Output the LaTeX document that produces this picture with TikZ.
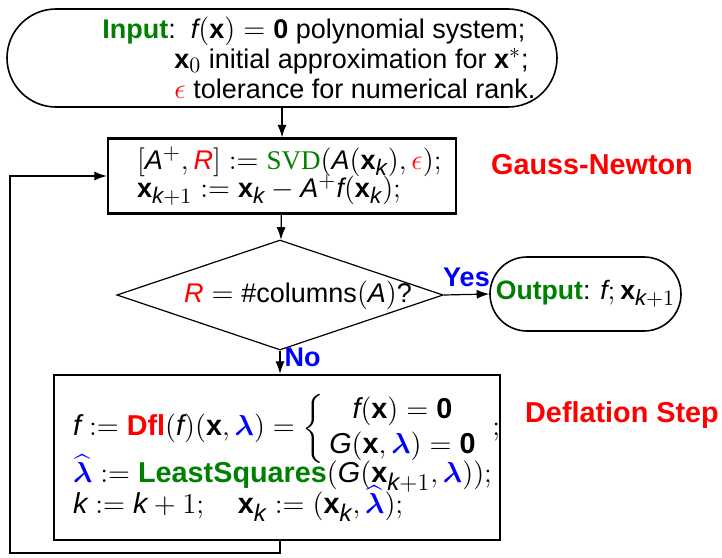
\documentclass[tikz,border=0pt]{standalone}
\usepackage{fontspec}
\setmainfont{Liberation Sans}
\newfontfamily\svdfont{Liberation Serif}
\usepackage{amsmath}
\usepackage[italic,basic]{mathastext}
\usetikzlibrary{positioning,arrows.meta,shapes.geometric}
\definecolor{okgreen}{RGB}{0,128,0}
\thickmuskip=5mu
\medmuskip=4mu
\tikzset{
  flowarrow/.style={-{Latex[length=2.2mm,width=1.6mm]}, semithick},
  terminal/.style={draw, rectangle, thick, fill=white, inner sep=2pt},
  stepbox/.style={draw, very thick, fill=white, align=left,
    execute at begin node={\relpenalty=10000\binoppenalty=10000\lineskiplimit=-100pt}},
  decision/.style={draw, diamond, aspect=3, semithick, inner sep=0pt},
  sidelabel/.style={text=red, font=\Large\bfseries},
  answer/.style={text=blue, font=\fontsize{13.5}{15}\selectfont\bfseries}
}
\newcommand{\bx}{\mathbf{x}}
\newcommand{\blam}{\textcolor{blue}{\boldsymbol{\lambda}}}
\newcommand{\hlam}{\textcolor{blue}{\widehat{\boldsymbol{\lambda}}}}

\begin{document}
\begin{tikzpicture}[x=0.5pt, y=-0.5pt, >=Latex]
  \useasboundingbox (0,0) rectangle (722,557);
  % terminals and steps
  \node[terminal, rounded corners=24.5pt, minimum width=275pt, minimum height=49pt,
        align=left, font=\fontsize{13.5}{15}\selectfont] (input) at (282,58)
    {\hspace*{37pt}\textcolor{okgreen}{\textbf{Input}}:\hspace{2.5pt} $f(\bx)=\mathbf{0}$ polynomial system;\\
     \hspace*{73pt}$\bx_0$ initial approximation for $\bx^*$;\\
     \hspace*{73pt}\textcolor{red}{$\epsilon$} tolerance for numerical rank.};
  \node[stepbox, minimum width=174pt, minimum height=37.5pt, inner xsep=14.5pt, text width=145pt,
        font=\fontsize{13.5}{14}\selectfont] (gauss) at (282,176)
    {$[A^+,\textcolor{red}{R}] := \textcolor{okgreen}{\text{\svdfont SVD}}(A(\bx_k),\textcolor{red}{\epsilon});$\\
     $\bx_{k+1} := \bx_k - A^+f(\bx_k);$};
  \node[decision, minimum width=163pt, minimum height=55pt, inner xsep=-6pt,
        font=\fontsize{13.5}{16}\selectfont] (rank) at (280,295)
    {\hspace*{18pt}$\textcolor{red}{R} = \text{\#columns}(A)$?};
  \node[terminal, rounded corners=18.5pt, minimum width=95.5pt, minimum height=37pt, inner xsep=0pt,
        font=\fontsize{13.3}{16}\selectfont] (output) at (585.5,294)
    {\textcolor{okgreen}{\textbf{Output}}: $f;\bx_{k+1}$};
  \node[stepbox, minimum width=223pt, minimum height=82.5pt, inner xsep=9.5pt, text width=204pt,
        font=\fontsize{14.4}{15.5}\selectfont] (defl) at (277,457.5)
    {$\lineskiplimit=0pt f := \textcolor{red}{\textbf{Dfl}}(f)(\bx,\blam) = \def\arraystretch{1.13}\left\{\begin{array}{@{\,}c@{\ }} f(\bx)=\mathbf{0}\\ G(\bx,\blam)=\mathbf{0}\end{array}\right.;$\\[8pt]
     $\hlam := \textcolor{okgreen}{\textbf{LeastSquares}}(G(\bx_{k+1},\blam));$\\
     $k := k+1;\quad \bx_k := (\bx_k,\hlam);$};
  % side labels
  \node[sidelabel] (gnlabel) at (592,165) {Gauss-Newton};
  \node[sidelabel] (dfllabel) at (622,415) {Deflation Step};
  % connectors
  \coordinate (loop) at (10,553);
  \draw[flowarrow] (input) -- (gauss);
  \draw[flowarrow] (gauss) -- (rank);
  \draw[flowarrow] (rank.east) -- node[answer, above, pos=0.5] (yes) {Yes} (output.west);
  \draw[flowarrow] (rank.south) -- node[answer, right, pos=0.3, inner sep=2pt] (no) {No} ([xshift=1.5pt]defl.north);
  \draw[flowarrow] ([xshift=1.5pt]defl.south) |- (loop) |- (gauss.west);
\end{tikzpicture}
\end{document}
